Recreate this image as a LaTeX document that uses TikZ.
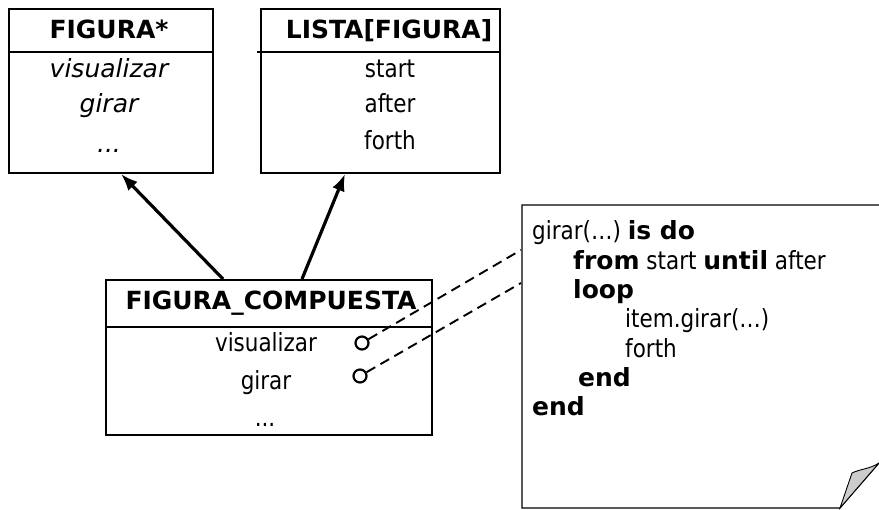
\documentclass[tikz,border=0pt]{standalone}
\usepackage{fontspec}
\setmainfont{DejaVu Sans}[UprightFeatures={FakeStretch=0.86},BoldFont={DejaVu Sans Bold},ItalicFont={DejaVu Sans Oblique}]
\usetikzlibrary{arrows.meta,calc}
\begin{document}
\begin{tikzpicture}[x=1pt,y=-1pt,
  umlbox/.style={draw,line width=2.4pt,inner sep=0pt,anchor=north west},
  sep/.style={line width=2.4pt},
  txt/.style={anchor=base,inner sep=0pt,font=\fontsize{25}{30}\selectfont},
  code/.style={anchor=base west,inner sep=0pt,font=\fontsize{25}{30}\selectfont},
  inh/.style={-{Latex[length=17pt,width=13pt]},line width=3.2pt},
  link/.style={dash pattern=on 10pt off 6pt,line width=1.9pt},
  port/.style={circle,draw,line width=2.2pt,fill=white,minimum size=13pt,inner sep=0pt}]
\useasboundingbox (0,0) rectangle (879,510);

% FIGURA*
\node[umlbox,minimum width=204pt,minimum height=164pt] (fig) at (8,8) {};
\coordinate (figL) at (8,52); \coordinate (figR) at (212,52);
\draw[sep] (figL) -- (figR);
\node[txt,font=\fontsize{25}{30}\selectfont\bfseries] (figt) at (109,39) {FIGURA*};
\node[txt,font=\fontsize{25}{30}\selectfont\itshape] (fig1) at (109,78) {visualizar};
\node[txt,font=\fontsize{25}{30}\selectfont\itshape] (fig2) at (109,113) {girar};
\node[txt,font=\fontsize{25}{30}\selectfont\itshape] (fig3) at (109,153) {...};

% LISTA[FIGURA]
\node[umlbox,minimum width=239pt,minimum height=164pt] (lst) at (260,8) {};
\coordinate (lstL) at (257,52); \coordinate (lstR) at (499,52);
\draw[sep] (lstL) -- (lstR);
\node[txt,font=\fontsize{25}{30}\selectfont\bfseries] (lstt) at (389,39) {LISTA[FIGURA]};
\node[txt] (lst1) at (390,78) {start};
\node[txt] (lst2) at (390,113) {after};
\node[txt] (lst3) at (390,150) {forth};

% FIGURA_COMPUESTA
\node[umlbox,minimum width=326pt,minimum height=155pt] (comp) at (105,279) {};
\coordinate (compL) at (105,327); \coordinate (compR) at (431,327);
\draw[sep] (compL) -- (compR);
\node[txt,font=\fontsize{25}{30}\selectfont\bfseries] (compt) at (271,310) {FIGURA\_COMPUESTA};
\node[txt] (comp1) at (266,352) {visualizar};
\node[txt] (comp2) at (266,390) {girar};
\node[txt] (comp3) at (265,427) {...};

% inheritance arrows
\coordinate (a1s) at (223,279); \coordinate (a1e) at (121,174);
\coordinate (a2s) at (302,279); \coordinate (a2e) at (345,174);
\draw[inh] (a1s) -- (a1e);
\draw[inh] (a2s) -- (a2e);

% note
\coordinate (nTL) at (522,205); \coordinate (nTR) at (879,205);
\coordinate (nRB) at (879,463); \coordinate (nBR) at (840,508);
\coordinate (nBL) at (522,508);
\draw[line width=1.1pt] (nTR) -- (nTL) -- (nBL) -- (nBR) -- (nRB);
\coordinate (fTip) at (852,473);
\draw[line width=0.9pt,fill=gray!40] (nBR) -- (fTip) .. controls (860,469) and (870,469) .. (nRB) -- cycle;

\node[code] (l1) at (532,240) {girar(…) \textbf{is do}};
\node[code] (l2) at (573,269.3) {\textbf{from} start \textbf{until} after};
\node[code] (l3) at (573,298.6) {\textbf{loop}};
\node[code] (l4) at (625,327.9) {item.girar(…)};
\node[code] (l5) at (625,357.2) {forth};
\node[code] (l6) at (578,386.5) {\textbf{end}};
\node[code] (l7) at (532,415.8) {\textbf{end}};

% ports and links
\node[port] (p1) at (362,343) {};
\node[port] (p2) at (360,376) {};
\coordinate (n1) at (521,250);
\coordinate (n2) at (521,283);
\draw[link] (p1) -- (n1);
\draw[link] (p2) -- (n2);
\end{tikzpicture}
\end{document}
